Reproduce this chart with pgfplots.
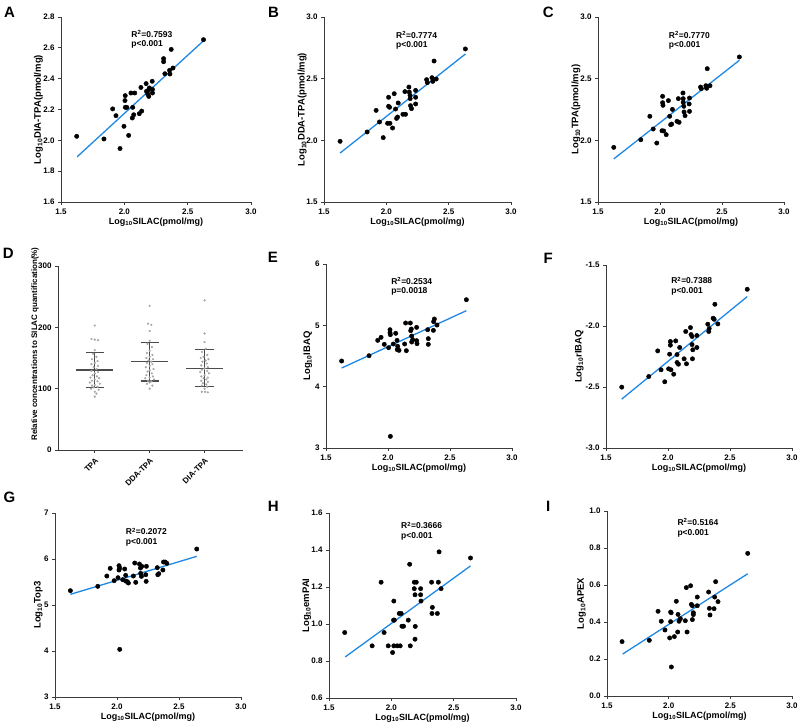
\documentclass[border=0pt]{standalone}
\usepackage{pgfplots}
\pgfplotsset{compat=1.18}
\usepackage{fontspec}
\setmainfont{Liberation Sans}
\definecolor{fitblue}{RGB}{30,136,229}
\definecolor{axisgray}{RGB}{60,60,60}
\pgfplotsset{
 panel/.style={
  scale only axis, axis x line*=bottom, axis y line*=left,
  axis line style={axisgray, line width=0.9pt, -},
  every tick/.style={axisgray, line width=0.9pt},
  tick align=outside, major tick length=3pt,
  tick label style={font=\bfseries\fontsize{8}{9}\selectfont, text=black},
  /pgf/number format/assume math mode=true,
  xlabel style={font=\bfseries\fontsize{9}{10}\selectfont, at={(axis description cs:0.5,0)}, anchor=center, yshift=-20pt},
  ylabel style={font=\bfseries\fontsize{9.5}{10}\selectfont, anchor=center},
  clip=false,
 },
 scat/.style={panel, xmin=1.5, xmax=3.0, xtick={1.5,2.0,2.5,3.0},
  xticklabel style={/pgf/number format/fixed, /pgf/number format/fixed zerofill, /pgf/number format/precision=1},
  xlabel={Log\textsubscript{10}SILAC(pmol/mg)}},
 onedec/.style={yticklabel style={/pgf/number format/fixed, /pgf/number format/fixed zerofill, /pgf/number format/precision=1}},
 dots/.style={only marks, mark=*, mark size=2.2pt, black},
 fitline/.style={no marks, line width=1.3pt, fitblue},
 ddot/.style={only marks, mark=*, mark size=0.9pt, gray!70, mark options={draw=none, fill=gray!70}},
 dline/.style={no marks, line width=1.3pt, black!70},
}
\tikzset{rsq/.style={anchor=north west, align=left, inner sep=0pt, font=\bfseries\fontsize{8.5}{9.5}\selectfont},
 letter/.style={anchor=base west, inner sep=0pt, font=\bfseries\fontsize{15}{15}\selectfont}}
\begin{document}
\begin{tikzpicture}
\useasboundingbox (0pt,0pt) rectangle (800pt,-726pt);
\node[letter] at (4pt,-17.3pt) {A};
\node[letter] at (268pt,-17.3pt) {B};
\node[letter] at (542.7pt,-17.3pt) {C};
\node[letter] at (2.7pt,-258.3pt) {D};
\node[letter] at (267.7pt,-262.7pt) {E};
\node[letter] at (543.3pt,-263.3pt) {F};
\node[letter] at (3.3pt,-502.3pt) {G};
\node[letter] at (267.7pt,-511pt) {H};
\node[letter] at (546pt,-511pt) {I};

% ---------------- A
\begin{axis}[scat, onedec, at={(61pt,-202pt)}, width=190pt, height=185pt,
  ymin=1.6, ymax=2.8, ytick={1.6,1.8,2.0,2.2,2.4,2.6,2.8},
  ylabel={Log\textsubscript{10}DIA-TPA(pmol/mg)},
  ylabel style={at={(axis description cs:-0.119,0.5)}}]
\addplot[fitline] coordinates {(1.627,1.893) (2.637,2.655)};
\addplot[dots] table {
x y
1.624 2.026
1.839 2.009
1.908 2.204
1.934 2.160
1.966 1.947
1.997 2.091
2.007 2.290
2.005 2.258
2.008 2.214
2.020 2.214
2.034 2.032
2.052 2.307
2.082 2.307
2.066 2.214
2.063 2.145
2.074 2.166
2.118 2.173
2.137 2.190
2.131 2.343
2.172 2.368
2.175 2.318
2.185 2.300
2.193 2.285
2.198 2.340
2.190 2.325
2.220 2.383
2.222 2.330
2.222 2.307
2.310 2.510
2.310 2.530
2.320 2.432
2.357 2.454
2.360 2.430
2.370 2.590
2.384 2.469
2.625 2.653
};
\node[rsq] at (rel axis cs:0.37,0.93) {R\textsuperscript{2}=0.7593\\p<0.001};
\end{axis}

% ---------------- B
\begin{axis}[scat, onedec, at={(324pt,-202pt)}, width=187pt, height=185pt,
  ymin=1.5, ymax=3.0, ytick={1.5,2.0,2.5,3.0},
  ylabel={Log\textsubscript{10}DDA-TPA(pmol/mg)},
  ylabel style={at={(axis description cs:-0.116,0.5)}}]
\addplot[fitline] coordinates {(1.629,1.897) (2.634,2.700)};
\addplot[dots] table {
x y
1.629 1.992
1.846 2.068
1.918 2.243
1.945 2.149
1.975 2.022
2.010 2.138
2.018 2.349
2.018 2.276
2.026 2.268
2.029 2.138
2.050 2.100
2.063 2.378
2.074 2.254
2.082 2.178
2.090 2.189
2.095 2.303
2.133 2.211
2.149 2.395
2.154 2.211
2.181 2.432
2.184 2.392
2.190 2.365
2.194 2.281
2.191 2.338
2.202 2.257
2.235 2.405
2.235 2.349
2.235 2.295
2.323 2.492
2.329 2.468
2.366 2.508
2.372 2.478
2.383 2.643
2.400 2.497
2.634 2.741
};
\node[rsq] at (rel axis cs:0.385,0.925) {R\textsuperscript{2}=0.7774\\p<0.001};
\end{axis}

% ---------------- C
\begin{axis}[scat, onedec, at={(598pt,-202pt)}, width=186pt, height=185pt,
  ymin=1.5, ymax=3.0, ytick={1.5,2.0,2.5,3.0},
  ylabel={Log\textsubscript{10}TPA(pmol/mg)},
  ylabel style={at={(axis description cs:-0.118,0.5)}}]
\addplot[fitline] coordinates {(1.627,1.849) (2.640,2.649)};
\addplot[dots] table {
x y
1.627 1.943
1.845 2.005
1.918 2.195
1.945 2.092
1.974 1.978
2.016 2.078
2.021 2.357
2.021 2.305
2.024 2.284
2.030 2.076
2.050 2.046
2.068 2.322
2.078 2.195
2.086 2.127
2.094 2.132
2.100 2.251
2.137 2.154
2.148 2.338
2.154 2.146
2.185 2.384
2.187 2.338
2.187 2.308
2.192 2.276
2.194 2.230
2.202 2.200
2.238 2.343
2.235 2.295
2.238 2.235
2.327 2.432
2.333 2.419
2.370 2.443
2.376 2.422
2.381 2.581
2.403 2.443
2.640 2.676
};
\node[rsq] at (rel axis cs:0.38,0.925) {R\textsuperscript{2}=0.7770\\p<0.001};
\end{axis}

% ---------------- D
\begin{axis}[panel, at={(58pt,-450pt)}, width=185pt, height=184pt,
  xmin=-0.67, xmax=2.7, ymin=0, ymax=300,
  xtick={0,1,2}, xticklabels={TPA,DDA-TPA,DIA-TPA}, ytick={0,100,200,300},
  x tick label style={rotate=45, anchor=north east},
  ylabel={Relative concentrations to SILAC quantification(\%)},
  ylabel style={at={(axis description cs:-0.124,0.576)}, font=\bfseries\fontsize{8}{9}\selectfont}]
\addplot[ddot] table {
x y
0 203
-0.06 181
0 180
0.06 179
0 163
-0.03 157
0.03 152
-0.05 148
0.05 145
0 142
-0.06 140
0.06 137
-0.02 135
0.03 132
-0.06 129
0.06 127
0 125
-0.04 122
0.04 120
-0.08 118
0.08 117
0 115
-0.05 113
0.05 112
-0.09 110
0.09 108
0 106
-0.05 105
0.05 103
-0.02 102
-0.07 100
0.07 98
0 95
0.03 92
0 87
};
\addplot[ddot] table {
x y
1 235
0.97 206
1.03 204
1 194
1 178
0.96 173
1.04 168
1 162
0.95 158
1.05 155
1 152
0.94 150
1.06 148
0.98 146
1.03 144
0.95 142
1.05 140
1 137
0.93 135
1.07 132
1 130
0.96 128
1.04 125
0.94 122
1.06 120
1 118
0.92 117
1.08 115
0.97 113
1.03 112
1 110
0.95 108
1.05 105
1 100
};
\addplot[ddot] table {
x y
2 244
2 190
2 176
2.02 165
1.95 160
2.05 155
1.98 152
1.93 150
2.07 148
2.02 146
1.96 144
2.04 141
1.94 138
2.06 135
2 133
1.95 131
2.05 129
1.92 127
2.08 125
2 122
1.94 120
2.06 118
1.98 117
2.03 115
1.94 113
2.06 111
1.97 109
2.03 107
1.95 105
2.05 103
2 100
1.95 95
2.01 95
2.06 94
};
\addplot[dline] coordinates {(-0.334,130.4) (0.334,130.4)};
\addplot[dline] coordinates {(-0.167,158.7) (0.167,158.7)};
\addplot[dline] coordinates {(-0.167,102.2) (0.167,102.2)};
\addplot[dline] coordinates {(0,102.2) (0,158.7)};
\addplot[dline] coordinates {(0.666,144) (1.334,144)};
\addplot[dline] coordinates {(0.833,175.6) (1.167,175.6)};
\addplot[dline] coordinates {(0.833,112.5) (1.167,112.5)};
\addplot[dline] coordinates {(1,112.5) (1,175.6)};
\addplot[dline] coordinates {(1.666,133) (2.334,133)};
\addplot[dline] coordinates {(1.833,163.6) (2.167,163.6)};
\addplot[dline] coordinates {(1.833,103) (2.167,103)};
\addplot[dline] coordinates {(2,103) (2,163.6)};
\end{axis}

% ---------------- E
\begin{axis}[scat, at={(326pt,-448pt)}, width=186pt, height=184pt,
  ymin=3, ymax=6, ytick={3,4,5,6},
  ylabel={Log\textsubscript{10}IBAQ},
  ylabel style={at={(axis description cs:-0.098,0.5)}}]
\addplot[fitline] coordinates {(1.626,4.304) (2.632,5.239)};
\addplot[dots] table {
x y
1.626 4.418
1.847 4.505
1.917 4.755
1.944 4.804
1.970 4.690
2.005 4.636
2.016 4.929
2.016 4.880
2.019 4.848
2.019 3.190
2.043 4.696
2.062 4.870
2.073 4.755
2.075 4.603
2.078 4.658
2.089 4.592
2.134 4.696
2.142 5.038
2.148 4.587
2.180 5.038
2.183 4.913
2.188 4.940
2.191 4.826
2.191 4.728
2.199 4.766
2.231 4.967
2.231 4.750
2.234 4.701
2.320 4.929
2.325 4.783
2.325 4.690
2.366 4.918
2.368 5.060
2.374 5.103
2.395 5.005
2.632 5.418
};
\node[rsq] at (rel axis cs:0.35,0.93) {R\textsuperscript{2}=0.2534\\p=0.0018};
\end{axis}

% ---------------- F
\begin{axis}[scat, onedec, at={(606pt,-448pt)}, width=186pt, height=183pt,
  ymin=-3, ymax=-1.5, ytick={-3.0,-2.5,-2.0,-1.5},
  ylabel={Log\textsubscript{10}rIBAQ},
  ylabel style={at={(axis description cs:-0.144,0.5)}}]
\addplot[fitline] coordinates {(1.627,-2.599) (2.639,-1.759)};
\addplot[dots] table {
x y
1.627 -2.501
1.845 -2.414
1.917 -2.204
1.944 -2.359
1.974 -2.457
2.005 -2.351
2.013 -2.231
2.019 -2.127
2.019 -2.157
2.024 -2.359
2.046 -2.395
2.062 -2.122
2.073 -2.234
2.073 -2.299
2.084 -2.313
2.094 -2.176
2.130 -2.269
2.143 -2.045
2.149 -2.310
2.181 -2.013
2.186 -2.070
2.194 -2.086
2.194 -2.152
2.197 -2.269
2.200 -2.195
2.233 -2.078
2.233 -2.176
2.321 -1.985
2.329 -2.045
2.332 -2.021
2.364 -1.936
2.372 -1.945
2.378 -1.822
2.402 -1.983
2.639 -1.699
};
\node[rsq] at (rel axis cs:0.35,0.936) {R\textsuperscript{2}=0.7388\\p<0.001};
\end{axis}

% ---------------- G
\begin{axis}[scat, at={(55pt,-697pt)}, width=186pt, height=184pt,
  ymin=3, ymax=7, ytick={3,4,5,6,7},
  ylabel={Log\textsubscript{10}Top3},
  ylabel style={at={(axis description cs:-0.09,0.5)}}]
\addplot[fitline] coordinates {(1.624,5.232) (2.643,6.058)};
\addplot[dots] table {
x y
1.624 5.312
1.845 5.406
1.918 5.630
1.945 5.797
1.977 5.529
2.008 5.594
2.016 5.855
2.016 5.761
2.022 5.804
2.022 4.036
2.046 5.551
2.062 5.783
2.070 5.645
2.070 5.522
2.084 5.507
2.092 5.478
2.132 5.630
2.143 5.913
2.151 5.493
2.181 5.891
2.189 5.804
2.191 5.688
2.197 5.623
2.200 5.841
2.237 5.841
2.232 5.659
2.235 5.514
2.325 5.812
2.329 5.659
2.337 5.681
2.370 5.761
2.375 5.935
2.389 5.935
2.402 5.906
2.643 6.217
};
\node[rsq] at (rel axis cs:0.38,0.92) {R\textsuperscript{2}=0.2072\\p<0.001};
\end{axis}

% ---------------- H
\begin{axis}[scat, onedec, at={(329pt,-698pt)}, width=187pt, height=185pt,
  ymin=0.6, ymax=1.6, ytick={0.6,0.8,1.0,1.2,1.4,1.6},
  ylabel={Log\textsubscript{10}emPAI},
  ylabel style={at={(axis description cs:-0.119,0.5)}}]
\addplot[fitline] coordinates {(1.630,0.822) (2.635,1.314)};
\addplot[dots] table {
x y
1.626 0.954
1.846 0.882
1.918 1.226
1.942 0.954
1.975 0.882
2.010 0.846
2.020 1.124
2.018 1.021
2.024 1.021
2.020 0.882
2.047 0.882
2.071 0.882
2.063 1.057
2.079 1.057
2.085 0.988
2.098 0.988
2.136 1.021
2.147 1.323
2.152 0.882
2.184 1.226
2.200 1.226
2.184 1.191
2.190 1.158
2.192 0.987
2.190 0.918
2.235 1.191
2.235 1.158
2.238 1.124
2.323 1.226
2.329 1.090
2.326 1.057
2.369 1.057
2.377 1.226
2.383 1.390
2.399 1.191
2.635 1.357
};
\node[rsq] at (rel axis cs:0.385,0.953) {R\textsuperscript{2}=0.3666\\p<0.001};
\end{axis}

% ---------------- I
\begin{axis}[scat, onedec, at={(607pt,-696pt)}, width=185pt, height=185pt,
  ymin=0, ymax=1, ytick={0,0.2,0.4,0.6,0.8,1.0},
  ylabel={Log\textsubscript{10}APEX},
  ylabel style={at={(axis description cs:-0.137,0.5)}}]
\addplot[fitline] coordinates {(1.627,0.227) (2.641,0.661)};
\addplot[dots] table {
x y
1.622 0.294
1.843 0.301
1.914 0.458
1.940 0.404
1.970 0.357
2.008 0.314
2.016 0.402
2.016 0.454
2.020 0.450
2.022 0.157
2.046 0.321
2.062 0.512
2.073 0.346
2.076 0.441
2.084 0.404
2.095 0.418
2.135 0.407
2.149 0.346
2.143 0.586
2.178 0.596
2.184 0.495
2.192 0.488
2.192 0.413
2.200 0.440
2.200 0.450
2.232 0.535
2.232 0.488
2.324 0.562
2.330 0.474
2.335 0.438
2.368 0.472
2.373 0.535
2.381 0.618
2.400 0.510
2.641 0.771
};
\node[rsq] at (rel axis cs:0.38,0.96) {R\textsuperscript{2}=0.5164\\p<0.001};
\end{axis}
\end{tikzpicture}
\end{document}
